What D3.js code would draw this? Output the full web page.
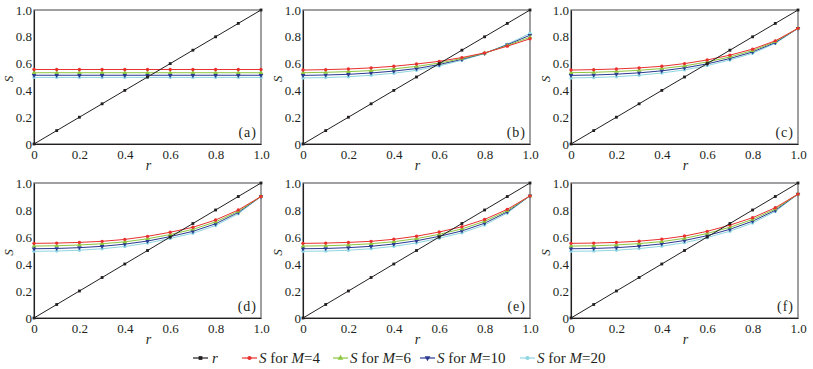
<!DOCTYPE html>
<html><head><meta charset="utf-8">
<script src="https://cdn.jsdelivr.net/npm/d3@7"></script>
<style>
html,body{margin:0;padding:0;background:#fff;}
svg{display:block;font-family:"Liberation Serif","DejaVu Serif",serif;}
svg text{font-family:"Liberation Serif","DejaVu Serif",serif;}
</style></head>
<body><svg id="c" width="813" height="369"></svg>
<script>
// ---- data ----
const rValues = [0,0.1,0.2,0.3,0.4,0.5,0.6,0.7,0.8,0.9,1.0];
const panelLabels = ["(a)","(b)","(c)","(d)","(e)","(f)"];
const tickValues = [0,0.2,0.4,0.6,0.8,1.0];
const seriesNames = ["r","M=4","M=6","M=10","M=20"];

const panelA_M4  = [0.556,0.556,0.556,0.556,0.556,0.556,0.556,0.556,0.556,0.556,0.556];
const panelA_M6  = [0.532,0.532,0.532,0.532,0.532,0.532,0.532,0.532,0.532,0.532,0.532];
const panelA_M10 = [0.513,0.513,0.513,0.513,0.513,0.513,0.513,0.513,0.513,0.513,0.513];
const panelA_M20 = [0.497,0.497,0.497,0.497,0.497,0.497,0.497,0.497,0.497,0.497,0.497];

const panelB_M4  = [0.552,0.555,0.560,0.568,0.580,0.597,0.617,0.645,0.680,0.730,0.785];
const panelB_M6  = [0.532,0.535,0.540,0.548,0.561,0.579,0.604,0.638,0.678,0.735,0.797];
const panelB_M10 = [0.512,0.515,0.520,0.530,0.544,0.563,0.593,0.632,0.677,0.740,0.812];
const panelB_M20 = [0.493,0.496,0.502,0.513,0.528,0.550,0.583,0.625,0.675,0.745,0.826];

const panelC_M4  = [0.552,0.555,0.560,0.568,0.580,0.600,0.627,0.663,0.708,0.770,0.863];
const panelC_M6  = [0.532,0.535,0.541,0.550,0.563,0.583,0.612,0.650,0.697,0.764,0.863];
const panelC_M10 = [0.512,0.515,0.521,0.531,0.546,0.568,0.598,0.638,0.687,0.757,0.863];
const panelC_M20 = [0.493,0.496,0.502,0.513,0.530,0.553,0.585,0.627,0.677,0.751,0.863];

const panelD_M4  = [0.553,0.555,0.560,0.568,0.582,0.605,0.635,0.672,0.726,0.800,0.900];
const panelD_M6  = [0.533,0.535,0.541,0.550,0.564,0.587,0.618,0.657,0.712,0.790,0.900];
const panelD_M10 = [0.513,0.515,0.521,0.531,0.547,0.570,0.603,0.642,0.698,0.782,0.900];
const panelD_M20 = [0.494,0.496,0.502,0.513,0.530,0.555,0.589,0.628,0.685,0.772,0.900];

const panelE_M4  = [0.553,0.555,0.560,0.568,0.583,0.606,0.637,0.676,0.730,0.805,0.905];
const panelE_M6  = [0.533,0.535,0.541,0.550,0.565,0.588,0.620,0.660,0.716,0.795,0.905];
const panelE_M10 = [0.513,0.515,0.521,0.531,0.548,0.572,0.605,0.645,0.702,0.786,0.905];
const panelE_M20 = [0.494,0.496,0.502,0.513,0.531,0.556,0.591,0.631,0.689,0.777,0.905];

const panelF_M4  = [0.553,0.555,0.560,0.569,0.584,0.607,0.642,0.688,0.743,0.817,0.918];
const panelF_M6  = [0.533,0.535,0.541,0.551,0.566,0.590,0.626,0.672,0.730,0.807,0.918];
const panelF_M10 = [0.513,0.515,0.521,0.532,0.549,0.574,0.610,0.657,0.717,0.798,0.918];
const panelF_M20 = [0.494,0.496,0.502,0.514,0.532,0.558,0.595,0.643,0.704,0.789,0.918];

const panels = [
  [panelA_M4,panelA_M6,panelA_M10,panelA_M20],
  [panelB_M4,panelB_M6,panelB_M10,panelB_M20],
  [panelC_M4,panelC_M6,panelC_M10,panelC_M20],
  [panelD_M4,panelD_M6,panelD_M10,panelD_M20],
  [panelE_M4,panelE_M6,panelE_M10,panelE_M20],
  [panelF_M4,panelF_M6,panelF_M10,panelF_M20]
];

// ---- styles / layout ----
const colors = ["#231f20","#e8312f","#8cc63f","#2b3990","#8fd6e1"];
const symbols = [d3.symbolSquare,d3.symbolCircle,d3.symbolTriangle,"down",d3.symbolCircle];
const panelX = [34,303,571];
const panelY = [10,183];
const pw = 227, ph = [134,135];
const textColor = "#231f20";
const serif = '"Liberation Serif","DejaVu Serif",serif';

const svg = d3.select("#c");

function drawMarker(g, k, x, y, size) {
  const s = symbols[k];
  if (s === "down") {
    g.append("path").attr("d", d3.symbol(d3.symbolTriangle, size)())
      .attr("transform", `translate(${x},${y}) rotate(180)`).attr("fill", colors[k]);
  } else {
    g.append("path").attr("d", d3.symbol(s, size)())
      .attr("transform", `translate(${x},${y})`).attr("fill", colors[k]);
  }
}

panels.forEach((series, i) => {
  const col = i % 3, row = Math.floor(i / 3);
  const h = ph[row];
  const g = svg.append("g").attr("transform", `translate(${panelX[col]},${panelY[row]})`);
  const x = d3.scaleLinear().domain([0,1]).range([0,pw]);
  const y = d3.scaleLinear().domain([0,1]).range([h,0]);

  g.append("rect").attr("x",0).attr("y",0).attr("width",pw).attr("height",h)
    .attr("fill","none").attr("stroke","#6d6e71").attr("stroke-width",1.3);

  const fmt = d => d === 0 ? "0" : d.toFixed(1);
  const xa = g.append("g").attr("transform",`translate(0,${h})`)
    .call(d3.axisBottom(x).tickValues(tickValues).tickFormat(fmt).tickSize(0).tickPadding(6));
  const ya = g.append("g")
    .call(d3.axisLeft(y).tickValues(tickValues).tickFormat(fmt).tickSize(0).tickPadding(2));
  [xa,ya].forEach(a => {
    a.attr("font-family", null);
    a.select(".domain").attr("stroke","#231f20").attr("stroke-width",1.1);
    a.selectAll("text").style("font-family", serif).attr("font-size",13).attr("fill",textColor);
  });

  g.append("text").attr("x", pw/2 + 1).attr("y", h + 26).attr("text-anchor","middle")
    .attr("font-size",14).attr("font-style","italic").attr("fill",textColor).text("r");
  g.append("text").attr("transform",`translate(${-21},${h/2 + 2}) rotate(-90)`).attr("text-anchor","middle")
    .attr("font-size",13).attr("font-style","italic").attr("fill",textColor).text("S");

  g.append("text").attr("x", pw - 4).attr("y", h - 7).attr("text-anchor","end")
    .attr("font-size",14).attr("fill",textColor).attr("letter-spacing",1).text(panelLabels[i]);

  const line = d3.line().x((d,j) => x(rValues[j])).y(d => y(d));
  const all = [rValues].concat(series);
  [4,3,2,1,0].forEach(k => {
    const vals = all[k];
    g.append("path").datum(vals).attr("d", line).attr("fill","none")
      .attr("stroke", colors[k]).attr("stroke-width", 1);
    vals.forEach((v,j) => drawMarker(g, k, x(rValues[j]), y(v), k === 0 ? 8 : 9));
  });
});

const legendX = [193,242,333,420,520];
const legendY = 358;
const lg = svg.append("g");
seriesNames.forEach((name, k) => {
  const x0 = legendX[k];
  lg.append("line").attr("x1",x0).attr("x2",x0+15).attr("y1",legendY).attr("y2",legendY)
    .attr("stroke",colors[k]).attr("stroke-width",1.2);
  drawMarker(lg, k, x0+7.5, legendY, 14);
  const t = lg.append("text").attr("x", x0 + (k===0 ? 19 : 17)).attr("y", legendY + 5)
    .attr("font-size",15).attr("fill",textColor);
  if (k === 0) {
    t.append("tspan").attr("font-style","italic").text("r");
  } else {
    const m = name.split("=");
    t.append("tspan").attr("font-style","italic").text("S");
    t.append("tspan").text(" for ");
    t.append("tspan").attr("font-style","italic").text(m[0]);
    t.append("tspan").text("=" + m[1]);
  }
});
</script></body></html>
